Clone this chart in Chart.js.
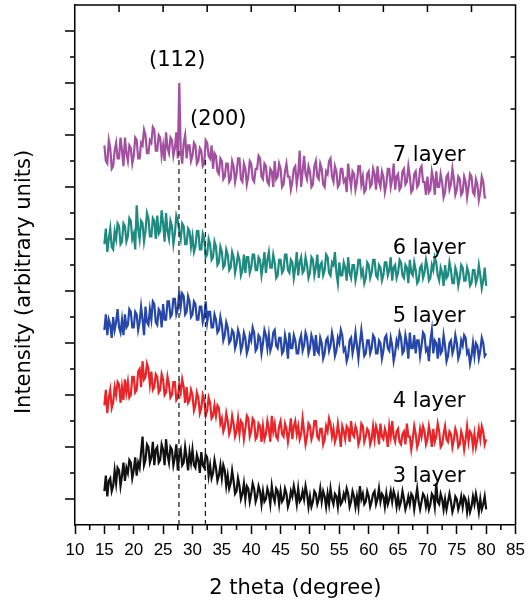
<!DOCTYPE html>
<html>
<head>
<meta charset="utf-8">
<script src="https://cdn.jsdelivr.net/npm/chart.js@4.4.0/dist/chart.umd.min.js"></script>
<style>
  body { margin: 0; background: #fff; }
  #xrd { display: block; }
</style>
</head>
<body>
<canvas id="xrd" width="531" height="605"></canvas>
<script>
// 2 theta grid (degree), one row per degree
var angles = [
  15, 15.25, 15.5, 15.75, 16, 16.25, 16.5, 16.75, 17, 17.25, 17.5, 17.75,
  18, 18.25, 18.5, 18.75, 19, 19.25, 19.5, 19.75, 20, 20.25, 20.5, 20.75,
  21, 21.25, 21.5, 21.75, 22, 22.25, 22.5, 22.75, 23, 23.25, 23.5, 23.75,
  24, 24.25, 24.5, 24.75, 25, 25.25, 25.5, 25.75, 26, 26.25, 26.5, 26.75,
  27, 27.25, 27.5, 27.75, 28, 28.25, 28.5, 28.75, 29, 29.25, 29.5, 29.75,
  30, 30.25, 30.5, 30.75, 31, 31.25, 31.5, 31.75, 32, 32.25, 32.5, 32.75,
  33, 33.25, 33.5, 33.75, 34, 34.25, 34.5, 34.75, 35, 35.25, 35.5, 35.75,
  36, 36.25, 36.5, 36.75, 37, 37.25, 37.5, 37.75, 38, 38.25, 38.5, 38.75,
  39, 39.25, 39.5, 39.75, 40, 40.25, 40.5, 40.75, 41, 41.25, 41.5, 41.75,
  42, 42.25, 42.5, 42.75, 43, 43.25, 43.5, 43.75, 44, 44.25, 44.5, 44.75,
  45, 45.25, 45.5, 45.75, 46, 46.25, 46.5, 46.75, 47, 47.25, 47.5, 47.75,
  48, 48.25, 48.5, 48.75, 49, 49.25, 49.5, 49.75, 50, 50.25, 50.5, 50.75,
  51, 51.25, 51.5, 51.75, 52, 52.25, 52.5, 52.75, 53, 53.25, 53.5, 53.75,
  54, 54.25, 54.5, 54.75, 55, 55.25, 55.5, 55.75, 56, 56.25, 56.5, 56.75,
  57, 57.25, 57.5, 57.75, 58, 58.25, 58.5, 58.75, 59, 59.25, 59.5, 59.75,
  60, 60.25, 60.5, 60.75, 61, 61.25, 61.5, 61.75, 62, 62.25, 62.5, 62.75,
  63, 63.25, 63.5, 63.75, 64, 64.25, 64.5, 64.75, 65, 65.25, 65.5, 65.75,
  66, 66.25, 66.5, 66.75, 67, 67.25, 67.5, 67.75, 68, 68.25, 68.5, 68.75,
  69, 69.25, 69.5, 69.75, 70, 70.25, 70.5, 70.75, 71, 71.25, 71.5, 71.75,
  72, 72.25, 72.5, 72.75, 73, 73.25, 73.5, 73.75, 74, 74.25, 74.5, 74.75,
  75, 75.25, 75.5, 75.75, 76, 76.25, 76.5, 76.75, 77, 77.25, 77.5, 77.75,
  78, 78.25, 78.5, 78.75, 79, 79.25, 79.5, 79.75, 80
];

// intensities (arbitrary units, each layer already offset), 4 values per degree
var layer7 = [
  146, 140, 139, 148, 145, 137, 138, 144, 147, 141, 141, 149,
  144, 138, 149, 143, 140, 146, 145, 139, 142, 149, 148, 141,
  141, 147, 146, 152, 150, 143, 143, 148, 147, 153, 152, 144,
  144, 150, 149, 142, 146, 140, 151, 145, 143, 149, 148, 142,
  145, 151, 141, 170, 144, 139, 147, 150, 141, 146, 146, 140,
  142, 147, 146, 139, 140, 145, 144, 138, 139, 148, 147, 142,
  141, 146, 137, 143, 142, 136, 135, 141, 140, 133, 134, 139,
  139, 132, 133, 140, 138, 132, 135, 141, 141, 133, 132, 139,
  137, 131, 134, 140, 139, 133, 132, 137, 137, 142, 141, 134,
  133, 139, 138, 132, 131, 137, 136, 130, 140, 133, 134, 139,
  137, 130, 131, 136, 139, 134, 134, 129, 132, 137, 138, 131,
  135, 144, 130, 136, 142, 135, 133, 138, 136, 130, 131, 138,
  140, 134, 133, 139, 137, 131, 130, 136, 135, 140, 141, 134,
  132, 138, 136, 130, 131, 137, 137, 132, 133, 128, 139, 134,
  130, 136, 135, 129, 132, 138, 138, 131, 134, 128, 129, 135,
  136, 130, 131, 137, 135, 129, 138, 132, 130, 136, 134, 128,
  131, 137, 137, 130, 133, 139, 129, 134, 135, 129, 130, 136,
  137, 131, 132, 138, 134, 128, 129, 135, 136, 130, 131, 137,
  138, 132, 132, 127, 134, 128, 129, 136, 133, 127, 136, 130,
  130, 135, 132, 126, 128, 134, 135, 129, 131, 137, 133, 127,
  129, 134, 133, 127, 128, 134, 132, 126, 130, 135, 134, 128,
  127, 133, 131, 125, 128, 134, 132, 126, 126
];
var layer6 = [
  108, 114, 105, 110, 114, 107, 106, 113, 110, 116, 115, 108,
  109, 116, 115, 109, 111, 118, 117, 110, 112, 106, 123, 114,
  110, 117, 116, 109, 113, 120, 118, 111, 111, 118, 117, 110,
  119, 112, 113, 121, 116, 109, 120, 113, 110, 117, 115, 108,
  112, 119, 117, 113, 110, 116, 115, 108, 108, 114, 113, 107,
  111, 105, 107, 113, 113, 106, 106, 112, 110, 103, 104, 110,
  108, 102, 103, 109, 107, 100, 101, 107, 105, 99, 100, 106,
  104, 98, 99, 105, 103, 97, 100, 104, 102, 96, 98, 104,
  97, 103, 103, 97, 99, 104, 104, 98, 98, 103, 102, 96,
  100, 105, 97, 102, 105, 99, 99, 104, 101, 95, 96, 102,
  102, 97, 98, 104, 104, 98, 97, 102, 101, 95, 99, 105,
  96, 101, 103, 97, 98, 103, 100, 95, 97, 103, 102, 96,
  99, 104, 95, 100, 101, 96, 98, 104, 103, 97, 96, 101,
  100, 105, 97, 93, 101, 96, 96, 101, 99, 94, 103, 97,
  95, 100, 100, 94, 97, 102, 102, 96, 98, 93, 95, 101,
  100, 95, 97, 102, 102, 96, 95, 100, 99, 94, 96, 101,
  101, 96, 98, 103, 94, 99, 100, 95, 97, 102, 101, 96,
  95, 100, 99, 93, 102, 97, 96, 101, 98, 93, 94, 99,
  100, 95, 97, 102, 99, 94, 95, 100, 98, 103, 101, 96,
  94, 99, 97, 92, 100, 95, 96, 101, 98, 93, 93, 99,
  97, 92, 95, 100, 99, 94, 94, 99, 97, 92, 93, 98,
  98, 93, 95, 100, 96, 91, 94, 99, 92
];
var layer5 = [
  75, 81, 73, 79, 77, 72, 80, 75, 78, 83, 76, 74,
  79, 73, 81, 76, 77, 83, 82, 76, 76, 82, 81, 75,
  78, 84, 79, 73, 84, 78, 77, 83, 79, 86, 85, 78,
  77, 83, 82, 76, 85, 79, 79, 86, 86, 80, 81, 87,
  87, 81, 83, 90, 84, 89, 88, 81, 82, 88, 86, 80,
  81, 86, 85, 79, 79, 84, 84, 78, 80, 86, 78, 82,
  82, 76, 76, 81, 79, 74, 75, 80, 77, 71, 73, 78,
  76, 70, 71, 75, 74, 68, 70, 75, 73, 67, 69, 74,
  72, 66, 68, 73, 71, 76, 74, 67, 68, 73, 72, 66,
  70, 75, 73, 68, 73, 67, 69, 74, 75, 69, 68, 72,
  72, 66, 67, 73, 70, 64, 74, 68, 68, 73, 71, 66,
  66, 71, 73, 67, 69, 74, 72, 66, 68, 73, 71, 65,
  73, 67, 66, 72, 70, 64, 66, 71, 72, 67, 69, 74,
  71, 65, 67, 72, 70, 75, 73, 67, 68, 63, 65, 71,
  72, 66, 69, 74, 69, 64, 70, 75, 70, 65, 66, 71,
  71, 66, 68, 73, 72, 66, 66, 71, 70, 64, 67, 72,
  73, 68, 67, 72, 69, 63, 66, 71, 69, 74, 72, 66,
  67, 73, 70, 64, 74, 68, 68, 73, 66, 71, 71, 65,
  69, 74, 73, 67, 68, 63, 71, 75, 66, 71, 70, 64,
  72, 66, 67, 73, 69, 63, 65, 70, 71, 66, 68, 73,
  70, 64, 66, 71, 69, 73, 72, 66, 67, 62, 65, 70,
  65, 70, 69, 64, 67, 72, 70, 65, 66
];
var layer4 = [
  46, 52, 43, 49, 52, 45, 47, 53, 50, 55, 54, 47,
  53, 48, 56, 51, 55, 49, 50, 57, 57, 51, 52, 59,
  60, 53, 63, 56, 57, 62, 60, 54, 59, 52, 53, 58,
  57, 51, 52, 58, 56, 50, 51, 57, 54, 49, 50, 55,
  55, 48, 49, 54, 51, 56, 53, 47, 53, 47, 48, 52,
  50, 44, 46, 51, 49, 43, 45, 50, 48, 42, 44, 49,
  47, 41, 42, 46, 42, 46, 45, 39, 41, 36, 38, 43,
  40, 35, 37, 42, 39, 34, 36, 41, 35, 40, 39, 33,
  37, 42, 41, 34, 36, 41, 40, 33, 34, 39, 38, 32,
  38, 33, 35, 40, 37, 32, 42, 36, 39, 34, 33, 38,
  40, 35, 34, 39, 37, 32, 36, 41, 33, 38, 40, 35,
  38, 33, 35, 41, 36, 31, 34, 39, 38, 33, 35, 40,
  40, 34, 33, 37, 37, 31, 33, 38, 36, 41, 39, 34,
  37, 32, 34, 39, 35, 30, 38, 36, 33, 38, 37, 32,
  40, 35, 34, 38, 36, 31, 33, 39, 38, 32, 34, 37,
  36, 31, 33, 38, 33, 38, 36, 31, 39, 34, 33, 37,
  35, 30, 38, 34, 40, 34, 32, 36, 37, 32, 31, 35,
  36, 31, 39, 34, 34, 29, 33, 38, 35, 30, 32, 37,
  34, 38, 36, 31, 33, 38, 35, 30, 37, 32, 34, 39,
  36, 30, 31, 35, 38, 33, 32, 36, 35, 30, 33, 37,
  35, 30, 31, 36, 34, 29, 33, 38, 32, 36, 35, 30,
  35, 30, 33, 37, 33, 38, 36, 31, 33
];
var layer3 = [
  13, 19, 11, 17, 18, 13, 15, 21, 16, 22, 21, 15,
  19, 24, 17, 22, 20, 25, 24, 18, 21, 26, 19, 24,
  22, 28, 34, 23, 25, 31, 30, 24, 26, 32, 23, 29,
  30, 24, 25, 31, 29, 23, 33, 27, 24, 30, 29, 23,
  26, 31, 21, 27, 29, 23, 24, 30, 26, 21, 28, 24,
  29, 23, 22, 27, 25, 20, 28, 23, 22, 27, 26, 19,
  23, 18, 20, 25, 22, 17, 19, 23, 18, 23, 21, 15,
  19, 14, 16, 21, 17, 12, 13, 18, 15, 10, 12, 16,
  10, 15, 14, 9, 12, 16, 14, 9, 11, 15, 13, 8,
  13, 9, 10, 14, 12, 8, 15, 11, 9, 14, 13, 8,
  13, 9, 10, 14, 12, 7, 9, 13, 11, 15, 12, 8,
  14, 9, 10, 13, 10, 15, 12, 7, 11, 7, 9, 13,
  12, 8, 10, 14, 9, 13, 11, 7, 12, 8, 14, 10,
  8, 12, 11, 7, 13, 8, 9, 12, 10, 14, 12, 7,
  9, 13, 11, 7, 11, 7, 15, 10, 12, 8, 9, 13,
  11, 7, 9, 12, 13, 8, 10, 14, 9, 12, 11, 7,
  12, 8, 10, 13, 9, 13, 11, 7, 11, 7, 9, 13,
  10, 6, 8, 11, 8, 12, 11, 6, 10, 14, 9, 6,
  9, 12, 11, 7, 10, 6, 8, 12, 11, 7, 16, 9,
  8, 12, 10, 6, 10, 6, 9, 12, 9, 5, 7, 11,
  10, 6, 8, 11, 7, 11, 10, 5, 9, 5, 7, 11,
  8, 12, 9, 5, 10, 6, 8, 11, 6
];

var layerNames = ["7 layer", "6 layer", "5 layer", "4 layer", "3 layer"];
var layerData = [layer7, layer6, layer5, layer4, layer3];
var layerColors = ["#a2509f", "#1f8b80", "#2747a8", "#e8262a", "#111111"];

// reflections: name, 2 theta, top of the dashed marker
var peakNames = ["(112)", "(200)"];
var peakAngles = [27.7, 32.2];
var peakTops = [145, 142];

var datasets = [];
for (var p = 0; p < peakAngles.length; p++) {
  datasets.push({
    data: [{ x: peakAngles[p], y: 0 }, { x: peakAngles[p], y: peakTops[p] }],
    borderColor: "#222",
    borderWidth: 1.3,
    borderDash: [5, 4],
    pointRadius: 0,
    order: 0
  });
}
for (var s = 0; s < layerData.length; s++) {
  var pts = [];
  for (var i = 0; i < angles.length; i++) {
    pts.push({ x: angles[i], y: layerData[s][i] });
  }
  datasets.push({
    label: layerNames[s],
    data: pts,
    borderColor: layerColors[s],
    borderWidth: 2.2,
    pointRadius: 0,
    tension: 0,
    order: 1
  });
}

// top/right frame, minor ticks and the text on the plot
var frameTicks = {
  id: "frameTicks",
  afterDatasetsDraw: function (chart) {
    var ctx = chart.ctx;
    var a = chart.chartArea;
    var xs = chart.scales.x;
    var ys = chart.scales.y;
    ctx.save();
    ctx.strokeStyle = "#000";
    ctx.lineWidth = 1.5;
    ctx.beginPath();
    ctx.moveTo(a.left, a.top);
    ctx.lineTo(a.right, a.top);
    ctx.lineTo(a.right, a.bottom);
    for (var v = 12.5; v < 85; v += 5) {
      var px = xs.getPixelForValue(v);
      ctx.moveTo(px, a.bottom);
      ctx.lineTo(px, a.bottom + 5);
    }
    for (var t = 17.5; t < 85; t += 7.5) {
      var tx = xs.getPixelForValue(t);
      ctx.moveTo(tx, a.top);
      ctx.lineTo(tx, a.top + 7);
    }
    for (var k = 1; k < 20; k++) {
      var py = ys.getPixelForValue(k * 10);
      var len = k % 2 ? 10 : 5;
      ctx.moveTo(a.left - len, py);
      ctx.lineTo(a.left, py);
      if (k % 2 == 0) {
        ctx.moveTo(a.right - 5, py);
        ctx.lineTo(a.right, py);
      }
    }
    ctx.stroke();
    ctx.restore();
  },
  afterDraw: function (chart) {
    var ctx = chart.ctx;
    var xs = chart.scales.x;
    var ys = chart.scales.y;
    ctx.save();
    ctx.fillStyle = "#000";
    ctx.font = "21px 'DejaVu Sans'";
    ctx.textBaseline = "middle";
    ctx.textAlign = "left";
    var labelY = [142, 106.5, 80, 47.3, 18.8];
    for (var n = 0; n < layerNames.length; n++) {
      ctx.fillText(layerNames[n], xs.getPixelForValue(64.1), ys.getPixelForValue(labelY[n]));
    }
    ctx.textAlign = "center";
    ctx.fillText(peakNames[0], xs.getPixelForValue(27.4), ys.getPixelForValue(178.8));
    ctx.fillText(peakNames[1], xs.getPixelForValue(34.4), ys.getPixelForValue(155.8));
    // y axis title
    ctx.translate(25, 282);
    ctx.rotate(-Math.PI / 2);
    ctx.fillText("Intensity (arbitrary units)", 0, 0);
    ctx.restore();
  }
};

var ctx = document.getElementById("xrd").getContext("2d");
var xrdChart = new Chart(ctx, {
  type: "line",
  data: { datasets: datasets },
  options: {
    responsive: false,
    animation: false,
    devicePixelRatio: 1,
    layout: { padding: { top: 5, right: 11, left: 0, bottom: 0 } },
    plugins: {
      legend: { display: false },
      tooltip: { enabled: false }
    },
    scales: {
      x: {
        type: "linear",
        min: 10,
        max: 85,
        afterFit: function (scale) {
          scale.height = 80;
        },
        ticks: {
          stepSize: 5,
          autoSkip: false,
          maxRotation: 0,
          padding: 6,
          color: "#000",
          font: { family: "'Liberation Sans', Arial", size: 17 }
        },
        grid: {
          drawOnChartArea: false,
          drawTicks: true,
          tickLength: 9,
          tickWidth: 1.5,
          tickColor: "#000"
        },
        border: { color: "#000", width: 1.5 },
        title: {
          display: true,
          text: "2 theta (degree)",
          color: "#000",
          font: { family: "'DejaVu Sans'", size: 21 },
          padding: { top: 0, bottom: 4 }
        }
      },
      y: {
        min: 0,
        max: 200,
        afterFit: function (scale) {
          scale.width = 75;
        },
        ticks: { display: false, stepSize: 10 },
        grid: { display: false },
        border: { color: "#000", width: 1.5 }
      }
    }
  },
  plugins: [frameTicks]
});
</script>
</body>
</html>
